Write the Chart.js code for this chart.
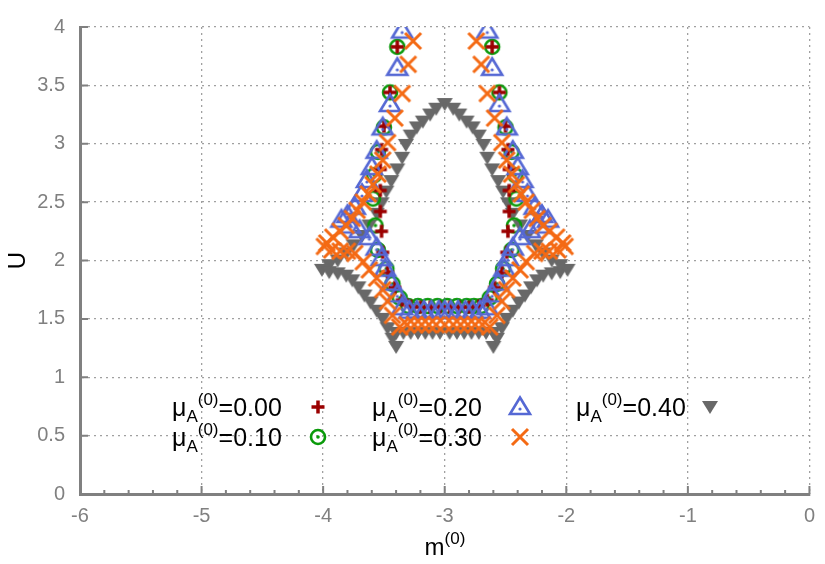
<!DOCTYPE html>
<html>
<head>
<meta charset="utf-8">
<script src="https://cdn.jsdelivr.net/npm/chart.js@4.4.0/dist/chart.umd.min.js"></script>
<style>
  body { margin: 0; background: #fff; }
  #wrap { position: relative; width: 825px; height: 564px; }
  .lg { position: absolute; font: 25px 'Liberation Sans', Arial, sans-serif; color: #000; white-space: nowrap; line-height: 30px; height: 30px; }
  .lg sub, .lg sup, #xtitle sup { font-size: 17px; position: relative; vertical-align: baseline; }
  .lg sub { top: 6px; }
  .lg sup, #xtitle sup { top: -11px; }
  .mk { position: absolute; }
  #xtitle { position: absolute; left: 0; width: 890px; text-align: center; top: 533px; font: 24px 'Liberation Sans', Arial, sans-serif; color: #000; }
</style>
</head>
<body>
<div id="wrap">
  <canvas id="chart" width="825" height="564"></canvas>
  <div id="xtitle">m<sup>(0)</sup></div>
</div>
<script>
// series: [m(0), U] pairs
const mu000 = [[-3.39,3.83],[-3.45,3.44],[-3.50,3.15],[-3.52,2.95],[-3.53,2.78],[-3.53,2.60],[-3.53,2.42],[-3.52,2.25],[-3.51,2.07],[-3.47,1.90],[-3.41,1.77],[-3.35,1.66],[-3.28,1.61],
  [-3.20,1.60],[-3.12,1.60],[-3.04,1.60],[-2.96,1.60],[-2.88,1.60],[-2.80,1.60],
  [-2.72,1.61],[-2.65,1.66],[-2.59,1.77],[-2.53,1.90],[-2.49,2.07],[-2.48,2.25],[-2.47,2.42],[-2.47,2.60],[-2.47,2.78],[-2.48,2.95],[-2.50,3.15],[-2.55,3.44],[-2.61,3.83]];

const mu010 = [[-3.39,3.83],[-3.45,3.44],[-3.50,3.14],[-3.55,2.93],[-3.58,2.73],[-3.59,2.53],[-3.57,2.30],[-3.55,2.09],[-3.48,1.93],[-3.43,1.80],[-3.37,1.68],[-3.30,1.61],
  [-3.22,1.61],[-3.14,1.61],[-3.06,1.61],[-2.98,1.61],[-2.90,1.61],[-2.82,1.61],[-2.76,1.61],
  [-2.70,1.61],[-2.63,1.68],[-2.57,1.80],[-2.52,1.93],[-2.45,2.09],[-2.43,2.30],[-2.41,2.53],[-2.42,2.73],[-2.45,2.93],[-2.50,3.14],[-2.55,3.44],[-2.61,3.83]];

const mu020 = [[-3.35,3.97],[-3.39,3.65],[-3.45,3.34],[-3.51,3.14],[-3.56,2.94],[-3.60,2.80],[-3.64,2.69],[-3.68,2.57],[-3.74,2.46],[-3.80,2.39],[-3.85,2.35],[-3.78,2.30],[-3.70,2.26],[-3.62,2.20],[-3.56,2.11],[-3.52,2.02],[-3.49,1.93],[-3.44,1.81],[-3.39,1.71],[-3.35,1.60],
  [-3.29,1.57],[-3.23,1.57],[-3.17,1.57],[-3.11,1.57],[-3.05,1.57],[-3.00,1.57],[-2.95,1.57],[-2.89,1.57],[-2.83,1.57],[-2.77,1.57],[-2.71,1.57],
  [-2.65,1.60],[-2.61,1.71],[-2.56,1.81],[-2.51,1.93],[-2.48,2.02],[-2.44,2.11],[-2.38,2.20],[-2.30,2.26],[-2.22,2.30],[-2.15,2.35],[-2.20,2.39],[-2.26,2.46],[-2.32,2.57],[-2.36,2.69],[-2.40,2.80],[-2.44,2.94],[-2.49,3.14],[-2.55,3.34],[-2.61,3.65],[-2.65,3.97]];

const mu030 = [[-3.26,3.88],[-3.30,3.68],[-3.35,3.43],[-3.41,3.22],[-3.47,3.01],[-3.51,2.86],[-3.55,2.74],[-3.59,2.65],[-3.63,2.57],[-3.67,2.50],[-3.72,2.43],[-3.76,2.36],[-3.81,2.30],[-3.86,2.25],[-3.92,2.20],[-3.97,2.15],[-3.99,2.12],[-3.93,2.09],[-3.86,2.08],[-3.80,2.08],[-3.74,2.06],[-3.67,1.99],[-3.62,1.92],[-3.56,1.85],[-3.51,1.75],[-3.47,1.65],[-3.43,1.53],[-3.37,1.43],
  [-3.31,1.45],[-3.25,1.45],[-3.19,1.45],[-3.13,1.45],[-3.07,1.45],[-3.00,1.45],[-2.93,1.45],[-2.87,1.45],[-2.81,1.45],[-2.75,1.45],[-2.69,1.45],
  [-2.63,1.43],[-2.57,1.53],[-2.53,1.65],[-2.49,1.75],[-2.44,1.85],[-2.38,1.92],[-2.33,1.99],[-2.26,2.06],[-2.20,2.08],[-2.14,2.08],[-2.07,2.09],[-2.01,2.12],[-2.03,2.15],[-2.08,2.20],[-2.14,2.25],[-2.19,2.30],[-2.24,2.36],[-2.28,2.43],[-2.33,2.50],[-2.37,2.57],[-2.41,2.65],[-2.45,2.74],[-2.49,2.86],[-2.53,3.01],[-2.59,3.22],[-2.65,3.43],[-2.70,3.68],[-2.74,3.88]];

const mu040 = [[-3.00,3.34],[-3.07,3.30],[-3.12,3.25],[-3.18,3.19],[-3.23,3.14],[-3.28,3.07],[-3.32,2.99],[-3.35,2.88],[-3.39,2.78],[-3.44,2.68],[-3.48,2.59],[-3.52,2.49],[-3.56,2.40],[-3.62,2.30],[-3.68,2.21],[-3.75,2.13],[-3.81,2.06],[-3.88,2.00],[-3.95,1.96],[-4.01,1.92],
  [-3.95,1.90],[-3.88,1.89],[-3.81,1.87],[-3.76,1.83],[-3.71,1.77],[-3.66,1.70],[-3.61,1.64],[-3.56,1.57],[-3.51,1.50],[-3.47,1.42],[-3.43,1.33],[-3.40,1.26],
  [-3.40,1.38],[-3.34,1.38],[-3.28,1.38],[-3.22,1.38],[-3.16,1.38],[-3.10,1.38],[-3.04,1.38],[-2.96,1.38],[-2.90,1.38],[-2.84,1.38],[-2.78,1.38],[-2.72,1.38],[-2.66,1.38],[-2.60,1.38],
  [-2.60,1.26],[-2.57,1.33],[-2.53,1.42],[-2.49,1.50],[-2.44,1.57],[-2.39,1.64],[-2.34,1.70],[-2.29,1.77],[-2.24,1.83],[-2.19,1.87],[-2.12,1.89],[-2.05,1.90],
  [-1.99,1.92],[-2.05,1.96],[-2.12,2.00],[-2.19,2.06],[-2.25,2.13],[-2.32,2.21],[-2.38,2.30],[-2.44,2.40],[-2.48,2.49],[-2.52,2.59],[-2.56,2.68],[-2.61,2.78],[-2.65,2.88],[-2.68,2.99],[-2.72,3.07],[-2.77,3.14],[-2.82,3.19],[-2.88,3.25],[-2.93,3.30]];

const seriesData = [mu000, mu010, mu020, mu030, mu040];
const seriesMu = ['0.00', '0.10', '0.20', '0.30', '0.40'];
const markerKinds = ['plus', 'circleDot', 'triDot', 'cross', 'triDown'];
const markerColors = ['#9b0000', '#0a9a0a', '#5568d4', '#f46a14', '#686868'];

// gnuplot-like point symbols, drawn once into small canvases
function makeMarker(kind, color) {
  var c = document.createElement('canvas');
  c.width = 26; c.height = 26;
  var g = c.getContext('2d'), m = 13;
  g.strokeStyle = color; g.fillStyle = color;
  g.beginPath();
  if (kind === 'plus') {
    g.lineWidth = 3.5;
    g.moveTo(m - 6.5, m); g.lineTo(m + 6.5, m);
    g.moveTo(m, m - 6.5); g.lineTo(m, m + 6.5);
    g.stroke();
  } else if (kind === 'circleDot') {
    g.lineWidth = 2.6;
    g.arc(m, m, 7, 0, Math.PI * 2); g.stroke();
    g.beginPath(); g.arc(m, m, 1.8, 0, Math.PI * 2); g.fill();
  } else if (kind === 'triDot') {
    g.lineWidth = 2.6;
    g.moveTo(m, m - 9.5); g.lineTo(m + 10, m + 7); g.lineTo(m - 10, m + 7); g.closePath(); g.stroke();
    g.beginPath(); g.arc(m, m + 2, 1.6, 0, Math.PI * 2); g.fill();
  } else if (kind === 'cross') {
    g.lineWidth = 3;
    g.moveTo(m - 8, m - 8); g.lineTo(m + 8, m + 8);
    g.moveTo(m + 8, m - 8); g.lineTo(m - 8, m + 8);
    g.stroke();
  } else {
    g.moveTo(m - 8, m - 6); g.lineTo(m + 8, m - 6); g.lineTo(m, m + 7); g.closePath(); g.fill();
  }
  return c;
}

function isMajor(v) { return Math.abs(v - Math.round(v)) < 1e-6; }

// draw order: orange on top, gray at the back
const drawOrder = [2, 3, 1, 0, 4];

const datasets = seriesData.map(function (pts, i) {
  return {
    label: 'mu=' + seriesMu[i],
    data: pts.map(function (p) { return { x: p[0], y: p[1] }; }),
    pointStyle: makeMarker(markerKinds[i], markerColors[i]),
    order: drawOrder[i]
  };
});

// inward tick marks like gnuplot (major + minor on x)
const tickMarks = {
  id: 'tickMarks',
  afterDatasetsDraw: function (chart) {
    var ctx = chart.ctx, a = chart.chartArea, x = chart.scales.x, y = chart.scales.y;
    ctx.save();
    ctx.strokeStyle = '#808080';
    ctx.lineWidth = 2;
    ctx.beginPath();
    x.ticks.forEach(function (t) {
      var px = x.getPixelForValue(t.value);
      ctx.moveTo(px, a.bottom); ctx.lineTo(px, a.bottom - (isMajor(t.value) ? 8 : 4));
    });
    y.ticks.forEach(function (t) {
      var py = y.getPixelForValue(t.value);
      ctx.moveTo(a.left, py); ctx.lineTo(a.left + 8, py);
    });
    ctx.stroke();
    ctx.restore();
  }
};

Chart.defaults.font.family = "'Liberation Sans', Arial, sans-serif";

new Chart(document.getElementById('chart'), {
  type: 'scatter',
  data: { datasets: datasets },
  options: {
    responsive: false,
    animation: false,
    events: [],
    layout: { padding: { top: 13, right: 15, left: 0, bottom: 0 } },
    plugins: { legend: { display: false }, tooltip: { enabled: false } },
    scales: {
      x: {
        type: 'linear', min: -6, max: 0,
        afterFit: function (s) { s.height = 70; },
        ticks: {
          stepSize: 0.2, autoSkip: false, maxRotation: 0, padding: 10,
          color: '#808080', font: { size: 20 },
          callback: function (v) { return isMajor(v) ? String(Math.round(v)) : ''; }
        },
        grid: {
          drawTicks: false, lineWidth: 1.3,
          color: function (c) { return isMajor(c.tick.value) ? '#a0a0a0' : 'rgba(0,0,0,0)'; }
        },
        border: { color: '#808080', width: 3, dash: [2, 4] }
      },
      y: {
        min: 0, max: 4,
        afterFit: function (s) { s.width = 80; },
        ticks: {
          stepSize: 0.5, padding: 15, color: '#808080', font: { size: 20 },
          callback: function (v) { return String(Math.round(v * 10) / 10); }
        },
        grid: { drawTicks: false, lineWidth: 1.3, color: '#a0a0a0' },
        border: { color: '#808080', width: 3, dash: [2, 4] },
        title: { display: true, text: 'U', color: '#000', font: { size: 24 }, padding: { top: 4, bottom: 0 } }
      }
    }
  },
  plugins: [tickMarks]
});

// legend: text left, symbol right, filled column by column
const legendCols = [172, 372, 576];
const legendMarkX = [318, 520, 710];
const legendRowY = [409, 439];
const wrap = document.getElementById('wrap');
seriesMu.forEach(function (mu, i) {
  var col = Math.floor(i / 2), row = i % 2;
  var d = document.createElement('div');
  d.className = 'lg';
  d.style.left = legendCols[col] + 'px';
  d.style.top = (legendRowY[row] - 17) + 'px';
  d.innerHTML = '\u03bc<sub>A</sub><sup>(0)</sup>=' + mu;
  wrap.appendChild(d);
  var mk = makeMarker(markerKinds[i], markerColors[i]);
  mk.className = 'mk';
  mk.style.left = (legendMarkX[col] - 13) + 'px';
  mk.style.top = (legendRowY[row] - 2 - 13) + 'px';
  wrap.appendChild(mk);
});
</script>
</body>
</html>
